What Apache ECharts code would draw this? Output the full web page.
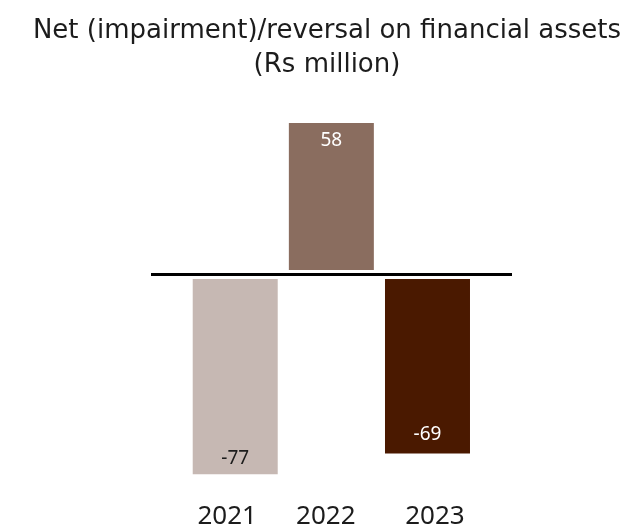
<!DOCTYPE html>
<html>
<head>
<meta charset="utf-8">
<script src="https://cdn.jsdelivr.net/npm/echarts@6/dist/echarts.min.js"></script>
<style>
  html, body { margin: 0; padding: 0; background: #ffffff; }
  #chart { width: 630px; height: 530px; }
</style>
</head>
<body>
<div id="chart"></div>
<script>
// Net (impairment)/reversal on financial assets, Rs million
const years = ['2021', '2022', '2023'];
const values = [-77, 58, -69];
const barColors = ['#c6b8b3', '#8a6d5f', '#4a1900'];
const labelColors = ['#1c1c1c', '#ffffff', '#ffffff'];

const FONT = 'Noto Sans';
const TITLE_FONT = 'DejaVu Sans';
const TEXT = '#1c1c1c';

const chart = echarts.init(document.getElementById('chart'), null, { renderer: 'canvas' });

const barData = values.map((v, i) => ({
  value: [i, v],
  itemStyle: { color: barColors[i] },
  label: {
    color: labelColors[i],
    position: v >= 0 ? 'insideTop' : 'insideBottom',
    distance: v >= 0 ? 8 : (i === 0 ? 6 : 9)
  }
}));

// small nudges so each year sits where the row of year labels is set
const yearRich = {
  y0: { padding: [0, 16, 0, 0] },
  y1: { padding: [0, 11, 0, 0] },
  y2: { padding: [0, 0, 0, 15] }
};

chart.setOption({
  animation: false,
  backgroundColor: '#ffffff',
  title: {
    text: 'Net (impairment)/reversal on financial assets\n(Rs million)',
    left: 327,
    top: 14,
    padding: 0,
    textAlign: 'center',
    textStyle: {
      fontFamily: TITLE_FONT,
      fontSize: 26,
      fontWeight: 'normal',
      lineHeight: 34,
      color: TEXT
    }
  },
  grid: {
    left: 151,
    right: 118,
    top: 117.8,
    height: 366.1,
    containLabel: false
  },
  xAxis: {
    type: 'value',
    min: -0.876,
    max: 2.879,
    axisLine: { show: false },
    axisTick: { show: false },
    splitLine: { show: false },
    axisLabel: {
      customValues: [0, 1, 2],
      margin: 22,
      fontFamily: FONT,
      fontSize: 26,
      color: TEXT,
      formatter: (v) => {
        const i = Math.round(v);
        return '{y' + i + '|' + years[i] + '}';
      },
      rich: yearRich
    }
  },
  yAxis: {
    type: 'value',
    min: -80,
    max: 60,
    show: false,
    splitLine: { show: false }
  },
  series: [{
    type: 'bar',
    data: barData,
    barWidth: 85,
    label: {
      show: true,
      fontFamily: FONT,
      fontSize: 19,
      formatter: (p) => String(p.value[1])
    },
    markLine: {
      silent: true,
      symbol: 'none',
      label: { show: false },
      data: [
        { yAxis: 0, lineStyle: { color: '#ffffff', width: 9, type: 'solid' } },
        { yAxis: 0, lineStyle: { color: '#000000', width: 3, type: 'solid' } }
      ]
    }
  }]
});
</script>
</body>
</html>
